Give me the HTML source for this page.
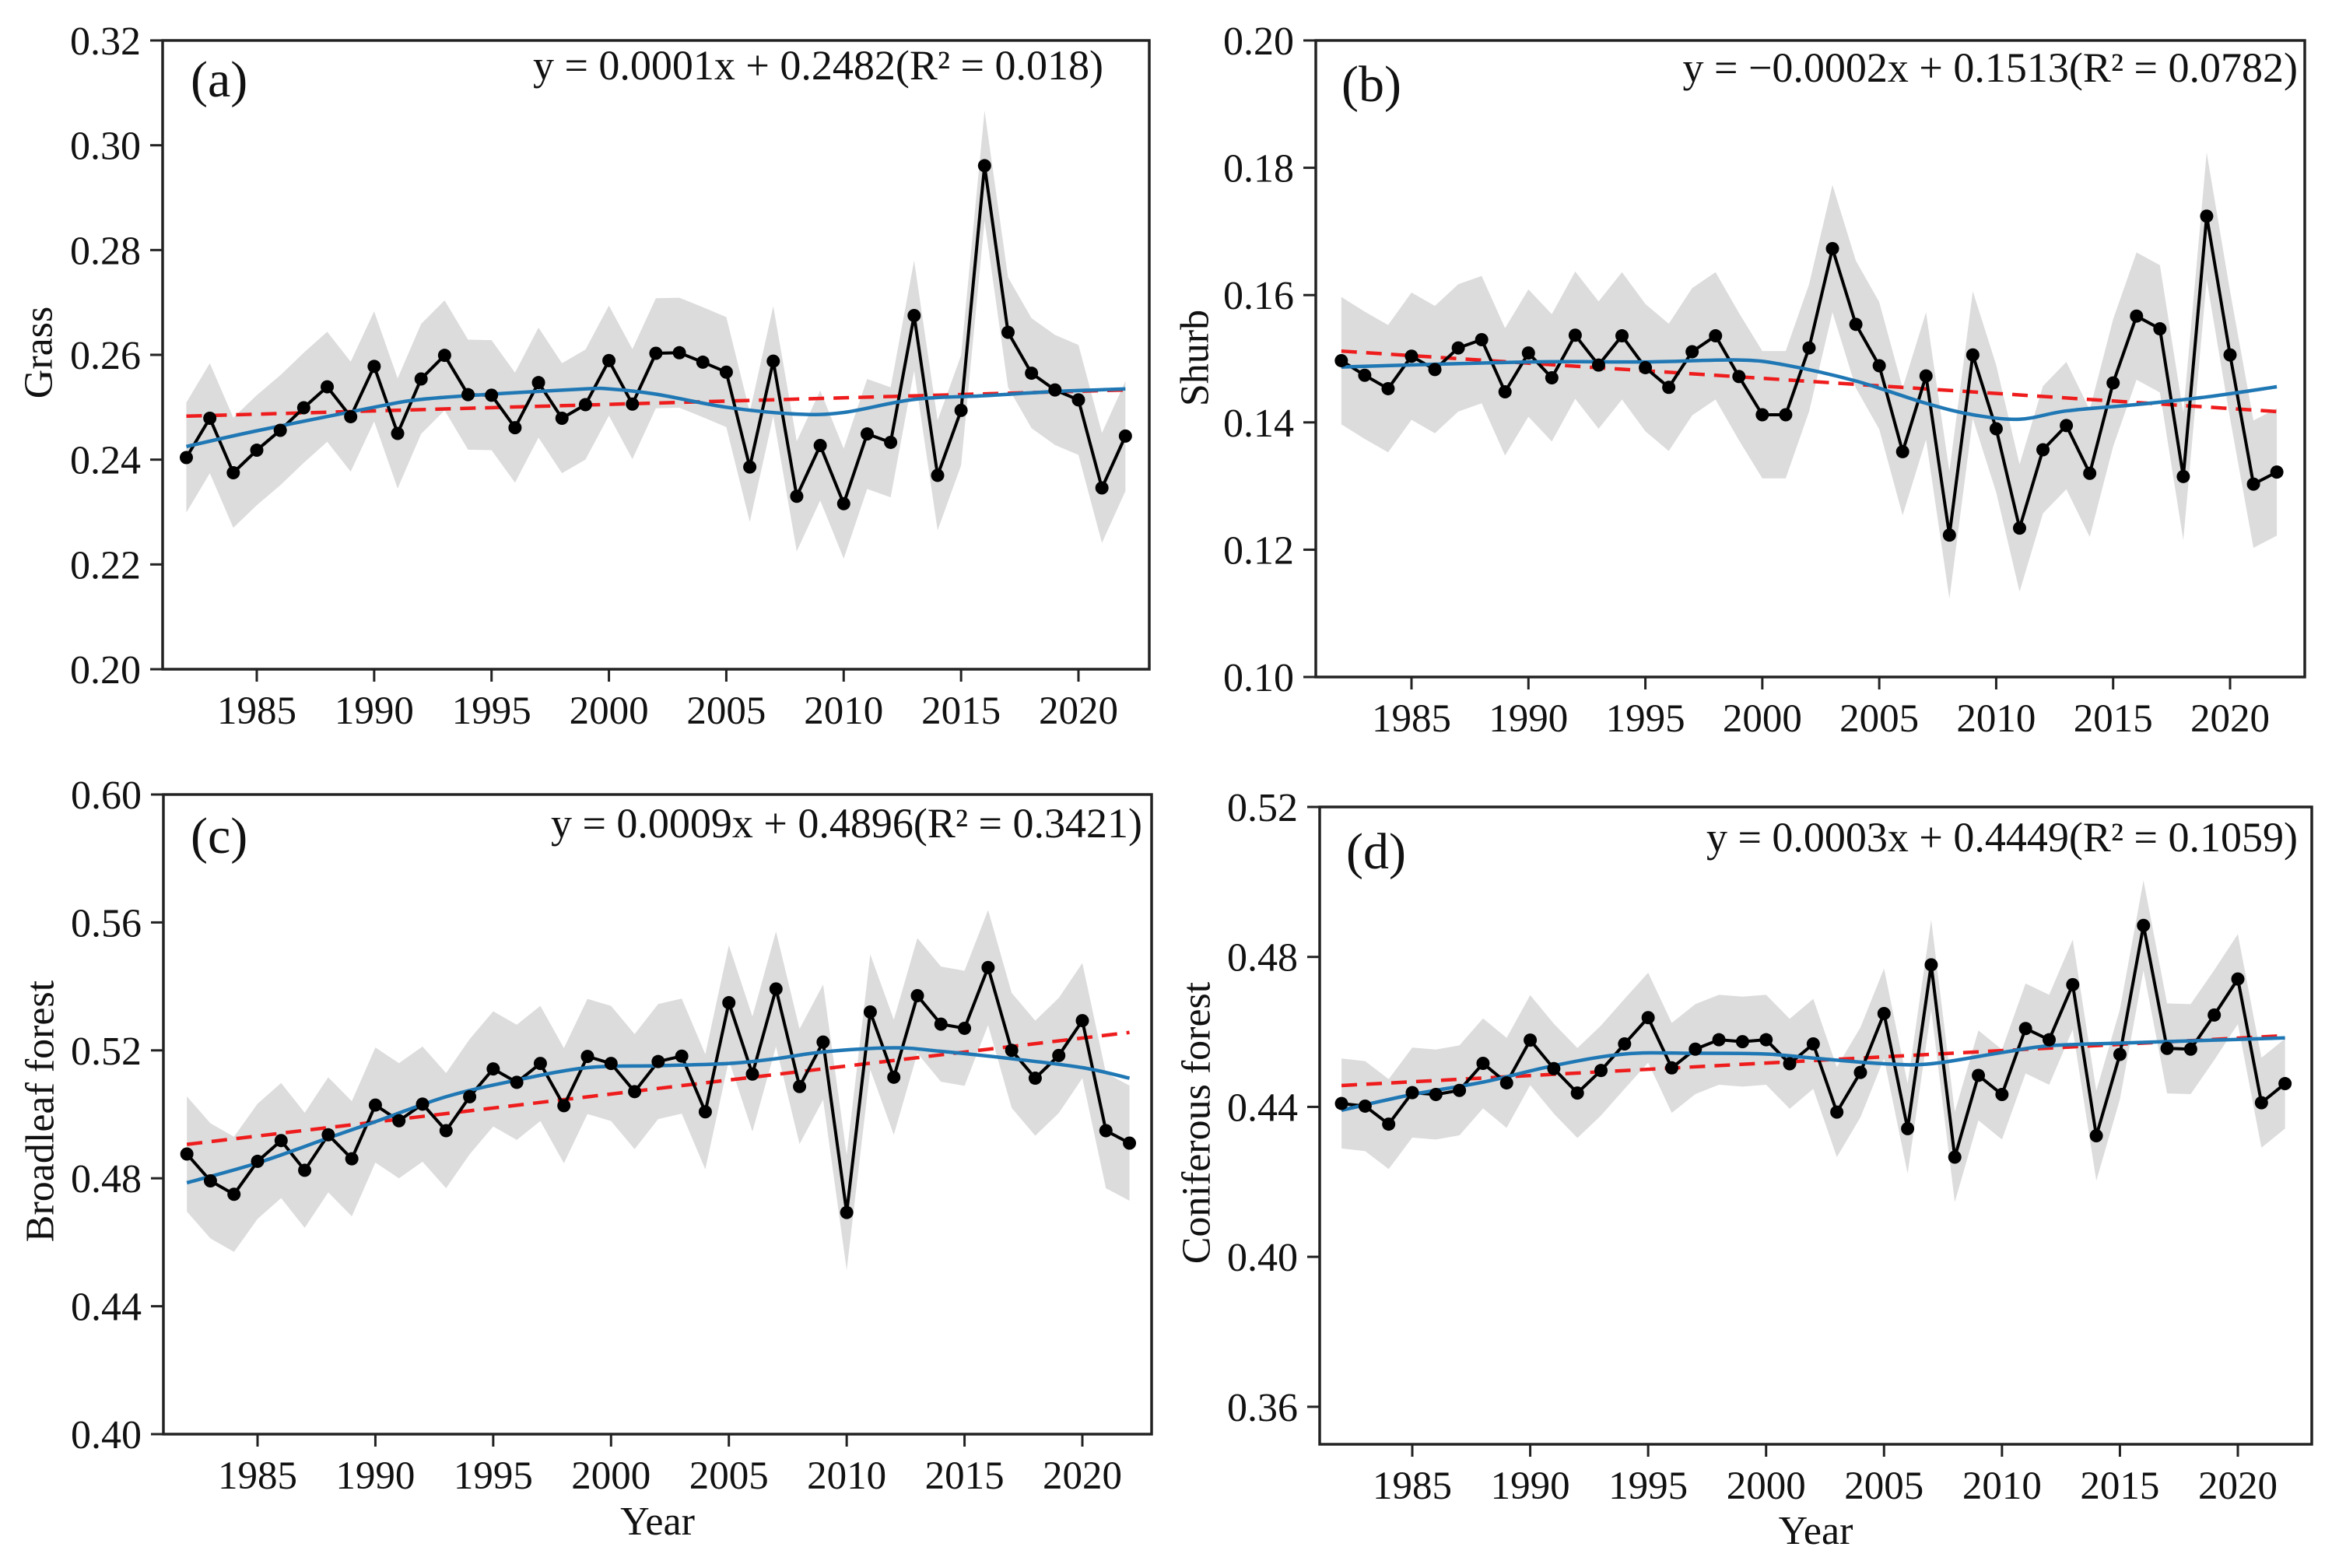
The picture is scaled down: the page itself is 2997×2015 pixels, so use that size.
<!DOCTYPE html>
<html><head><meta charset="utf-8"><style>
html,body{margin:0;padding:0;background:#fff;}
svg{display:block;font-family:"Liberation Serif",serif;}
</style></head><body>
<svg id="fig" width="2997" height="2015" viewBox="0 0 2997 2015" xmlns="http://www.w3.org/2000/svg"></svg>
<script>
const years = [];
for (let y = 1982; y <= 2022; y++) years.push(y);

const grassValues = [0.2404,0.2479,0.2375,0.2418,0.2456,0.2499,0.2539,0.2482,0.2578,0.2450,0.2554,0.2599,0.2524,0.2523,0.2461,0.2547,0.2479,0.2505,0.2589,0.2506,0.2603,0.2604,0.2586,0.2567,0.2386,0.2588,0.2330,0.2427,0.2316,0.2449,0.2433,0.2675,0.2370,0.2494,0.2961,0.2643,0.2565,0.2533,0.2514,0.2346,0.2445];
const shrubValues = [0.1497,0.1474,0.1453,0.1504,0.1483,0.1517,0.1530,0.1448,0.1509,0.1470,0.1537,0.1490,0.1536,0.1486,0.1455,0.1511,0.1536,0.1472,0.1412,0.1412,0.1517,0.1673,0.1554,0.1489,0.1354,0.1473,0.1223,0.1506,0.1390,0.1234,0.1357,0.1395,0.1320,0.1462,0.1567,0.1547,0.1315,0.1724,0.1506,0.1303,0.1322];
const broadleafValues = [0.4876,0.4792,0.4750,0.4853,0.4918,0.4825,0.4936,0.4861,0.5029,0.4980,0.5032,0.4949,0.5055,0.5142,0.5100,0.5159,0.5027,0.5181,0.5159,0.5071,0.5165,0.5182,0.5008,0.5349,0.5126,0.5392,0.5087,0.5226,0.4693,0.5320,0.5116,0.5371,0.5282,0.5269,0.5459,0.5200,0.5113,0.5184,0.5293,0.4949,0.4910];
const coniferousValues = [0.4409,0.4402,0.4354,0.4438,0.4433,0.4444,0.4516,0.4464,0.4578,0.4502,0.4437,0.4497,0.4568,0.4638,0.4504,0.4554,0.4579,0.4574,0.4579,0.4515,0.4568,0.4386,0.4492,0.4649,0.4342,0.4779,0.4266,0.4484,0.4433,0.4609,0.4579,0.4726,0.4323,0.4540,0.4884,0.4556,0.4554,0.4645,0.4741,0.4411,0.4462];

const bandHalfWidths = [0.0105, 0.010, 0.018, 0.012];

const grassSmoothYears = [1982,1985,1990,1992,1995,1999,2000,2002,2005,2008,2010,2013,2016,2019,2022];
const grassSmoothValues = [0.2425,0.2455,0.2500,0.2515,0.2525,0.2535,0.2535,0.2525,0.2500,0.2487,0.2490,0.2515,0.2522,0.2530,0.2535];
const shrubSmoothYears = [1982,1990,1995,1999,2001,2004,2007,2009,2011,2013,2016,2019,2022];
const shrubSmoothValues = [0.1487,0.1495,0.1495,0.1498,0.1490,0.1465,0.1430,0.1412,0.1405,0.1418,0.1428,0.1440,0.1456];
const broadSmoothYears = [1982,1985,1988,1990,1993,1996,1999,2002,2005,2007,2009,2012,2014,2017,2020,2022];
const broadSmoothValues = [0.4786,0.4848,0.4926,0.4977,0.5055,0.5107,0.5146,0.5152,0.5159,0.5174,0.5195,0.5208,0.5197,0.5174,0.5146,0.5113];
const conSmoothYears = [1982,1985,1988,1991,1994,1997,2000,2002,2005,2007,2010,2012,2015,2019,2022];
const conSmoothValues = [0.4391,0.4433,0.4466,0.4510,0.4541,0.4543,0.4541,0.4530,0.4515,0.4515,0.4545,0.4563,0.4570,0.4578,0.4584];

const trendSlopes = [0.000125, -0.0002375, 0.000875, 0.0003325];
const trendIntercepts = [0.2483, 0.1512, 0.4906, 0.4457];

const grassTicks = ["0.20","0.22","0.24","0.26","0.28","0.30","0.32"];
const shrubTicks = ["0.10","0.12","0.14","0.16","0.18","0.20"];
const broadTicks = ["0.40","0.44","0.48","0.52","0.56","0.60"];
const conTicks = ["0.36","0.40","0.44","0.48","0.52"];
const yearTicks = [1985,1990,1995,2000,2005,2010,2015,2020];

const panels = [
 {key:'grass', label:'(a)', title:'Grass', eq:'y = 0.0001x + 0.2482(R² = 0.018)', vals:grassValues, sy:grassSmoothYears, sv:grassSmoothValues, ticks:grassTicks, ymin:0.20, ymax:0.32,
  L:209,R:1477,T:52,B:860, x1985:330, x2020:1386, eqX:1418, eqY:102, lbX:245, lbY:124, ttX:50, ttY:453, showYear:false},
 {key:'shrub', label:'(b)', title:'Shurb', eq:'y = \u22120.0002x + 0.1513(R² = 0.0782)', vals:shrubValues, sy:shrubSmoothYears, sv:shrubSmoothValues, ticks:shrubTicks, ymin:0.10, ymax:0.20,
  L:1691,R:2962,T:52,B:870, x1985:1814, x2020:2866, eqX:2953, eqY:105, lbX:1724, lbY:130, ttX:1536, ttY:460, showYear:false},
 {key:'broadleaf', label:'(c)', title:'Broadleaf forest', eq:'y = 0.0009x + 0.4896(R² = 0.3421)', vals:broadleafValues, sy:broadSmoothYears, sv:broadSmoothValues, ticks:broadTicks, ymin:0.40, ymax:0.60,
  L:210,R:1480,T:1021,B:1843, x1985:331, x2020:1391, eqX:1468, eqY:1076, lbX:245, lbY:1096, ttX:52, ttY:1428, yrY:1972, showYear:true},
 {key:'coniferous', label:'(d)', title:'Coniferous forest', eq:'y = 0.0003x + 0.4449(R² = 0.1059)', vals:coniferousValues, sy:conSmoothYears, sv:conSmoothValues, ticks:conTicks, ymin:0.35, ymax:0.52,
  L:1696,R:2971,T:1037,B:1856, x1985:1815, x2020:2876, eqX:2953, eqY:1094, lbX:1730, lbY:1116, ttX:1538, ttY:1443, yrY:1984, showYear:true}
];

const NS='http://www.w3.org/2000/svg';
const svg=document.getElementById('fig');
function mk(tag, attrs, parent){const e=document.createElementNS(NS,tag);for(const k in attrs)e.setAttribute(k,attrs[k]);(parent||svg).appendChild(e);return e;}

function catmull(pts){
  let d='M'+pts[0][0]+','+pts[0][1];
  for(let i=0;i<pts.length-1;i++){
    const p0=pts[i-1]||pts[i],p1=pts[i],p2=pts[i+1],p3=pts[i+2]||p2;
    const c1x=p1[0]+(p2[0]-p0[0])/6,c1y=p1[1]+(p2[1]-p0[1])/6;
    const c2x=p2[0]-(p3[0]-p1[0])/6,c2y=p2[1]-(p3[1]-p1[1])/6;
    d+=' C'+c1x+','+c1y+' '+c2x+','+c2y+' '+p2[0]+','+p2[1];
  }
  return d;
}

panels.forEach((p,pi)=>{
  const g=mk('g',{});
  
  
  const perYear=(p.x2020-p.x1985)/35;
  const xs=yr=>p.x1985+(yr-1985)*perYear;
  const ys=v=>p.B-(v-p.ymin)/(p.ymax-p.ymin)*(p.B-p.T);
  const clipId='clip'+pi;
  const cp=mk('clipPath',{id:clipId},g);
  mk('rect',{x:p.L,y:p.T,width:p.R-p.L,height:p.B-p.T},cp);
  const plot=mk('g',{'clip-path':'url(#'+clipId+')'},g);
  const hw=bandHalfWidths[pi];
  let up=years.map((y,i)=>xs(y)+','+ys(p.vals[i]+hw));
  let dn=years.map((y,i)=>xs(y)+','+ys(p.vals[i]-hw)).reverse();
  const band=mk('polygon',{points:up.concat(dn).join(' '),fill:'#dcdcdc',stroke:'none'},plot);
  
  
  const ty0=trendIntercepts[pi], ty1=trendIntercepts[pi]+trendSlopes[pi]*40;
  const tr=mk('line',{x1:xs(1982),y1:ys(ty0),x2:xs(2022),y2:ys(ty1),stroke:'#ee1c1c','stroke-width':4.5,'stroke-dasharray':'20,12'},plot);
  
  
  const ln=mk('polyline',{points:years.map((y,i)=>xs(y)+','+ys(p.vals[i])).join(' '),fill:'none',stroke:'#000','stroke-width':4,'stroke-linejoin':'round'},plot);
  
  
  const sm=mk('path',{d:catmull(p.sy.map((y,i)=>[xs(y),ys(p.sv[i])])),fill:'none',stroke:'#1f77b4','stroke-width':4.5},plot);
  
  
  years.forEach((y,i)=>{
    const c=mk('circle',{cx:xs(y),cy:ys(p.vals[i]),r:8.5,fill:'#000'},g);
    
    
  });
  const fr=mk('rect',{x:p.L,y:p.T,width:p.R-p.L,height:p.B-p.T,fill:'none',stroke:'#222','stroke-width':3.5},g);
  
  
  p.ticks.forEach(t=>{
    const yy=ys(parseFloat(t));
    mk('line',{x1:p.L-16,y1:yy,x2:p.L,y2:yy,stroke:'#222','stroke-width':3},g);
    const tx=mk('text',{x:p.L-28,y:yy+18,'text-anchor':'end','font-size':52,fill:'#111'},g);
    tx.textContent=t;
    
    
  });
  yearTicks.forEach(t=>{
    const xx=xs(t);
    mk('line',{x1:xx,y1:p.B,x2:xx,y2:p.B+16,stroke:'#222','stroke-width':3},g);
    const tx=mk('text',{x:xx,y:p.B+70,'text-anchor':'middle','font-size':51,fill:'#111'},g);
    tx.textContent=t;
    
    
  });
  const eq=mk('text',{x:p.eqX,y:p.eqY,'text-anchor':'end','font-size':54,fill:'#111'},g);
  eq.textContent=p.eq;
  
  
  const lb=mk('text',{x:p.lbX,y:p.lbY,'font-size':66,fill:'#111'},g);
  lb.textContent=p.label;
  
  
  const tt=mk('text',{x:p.ttX,y:p.ttY,'text-anchor':'middle','font-size':52,fill:'#111',transform:'rotate(-90 '+p.ttX+' '+p.ttY+')','dominant-baseline':'central'},g);
  tt.textContent=p.title;
  
  
  if(p.showYear){
    const yt=mk('text',{x:(p.L+p.R)/2,y:p.yrY,'text-anchor':'middle','font-size':52,fill:'#111'},g);
    yt.textContent='Year';
    
    
  }
});
</script>
</body></html>
